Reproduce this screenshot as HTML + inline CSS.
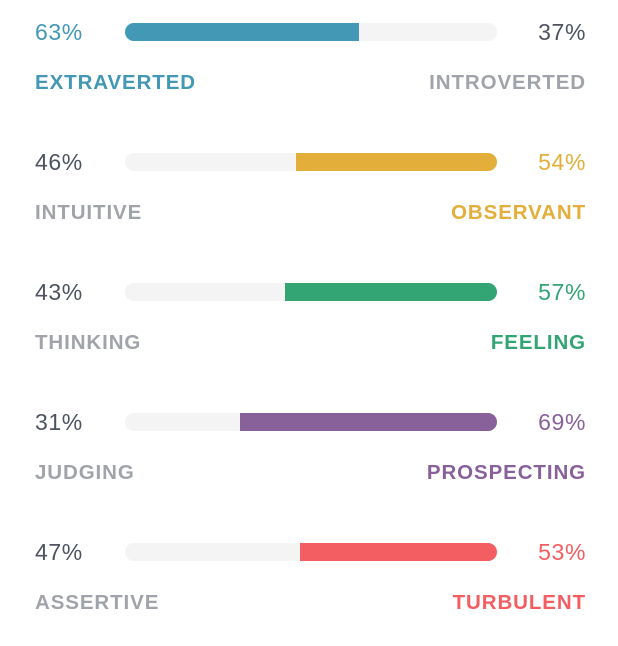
<!DOCTYPE html>
<html><head><meta charset="utf-8"><style>
html,body{margin:0;padding:0;background:#fff;width:618px;height:646px;overflow:hidden;font-family:"Liberation Sans",sans-serif;}
.abs{position:absolute;white-space:nowrap;}
.num{font-size:23px;line-height:23px;letter-spacing:0.6px;}
.lab{font-size:20.5px;line-height:20px;font-weight:bold;letter-spacing:0.9px;}
.track{position:absolute;left:125px;width:372px;height:18px;border-radius:9px;background:#f4f4f4;overflow:hidden;}
.fill{position:absolute;top:0;height:18px;}
</style></head><body>
<div id="chart"></div>
<script>
const leftLabels=["EXTRAVERTED","INTUITIVE","THINKING","JUDGING","ASSERTIVE"];
const rightLabels=["INTROVERTED","OBSERVANT","FEELING","PROSPECTING","TURBULENT"];
const leftValues=[63,46,43,31,47];
const colors=["#4298b5","#e4ae3a","#33a474","#88619a","#f25e62"];
const dark="#4d5361", grey="#a0a4aa";
const chart=document.getElementById('chart');
for(let i=0;i<leftValues.length;i++){
  const top=23+i*130;
  const lv=leftValues[i], rv=100-lv;
  const leftWins=lv>=rv;
  const c=colors[i];
  const row=document.createElement('div');
  
  
  chart.appendChild(row);
  const ln=document.createElement('div');
  ln.className='abs num';ln.style.left='35px';ln.style.top=(top-2)+'px';
  ln.style.color=leftWins?c:dark;ln.textContent=lv+'%';
  
  
  row.appendChild(ln);
  const rn=document.createElement('div');
  rn.className='abs num';rn.style.right=(618-586)+'px';rn.style.top=(top-2)+'px';
  rn.style.color=leftWins?dark:c;rn.textContent=rv+'%';
  
  
  row.appendChild(rn);
  const tr=document.createElement('div');
  tr.className='track';tr.style.top=top+'px';
  
  
  const f=document.createElement('div');
  f.className='fill';f.style.background=c;
  const w=372*(leftWins?lv:rv)/100;
  f.style.width=w+'px';
  if(leftWins){f.style.left='0';}else{f.style.right='0';}
  
  
  tr.appendChild(f);row.appendChild(tr);
  const ll=document.createElement('div');
  ll.className='abs lab';ll.style.left='35px';ll.style.top=(top+50)+'px';
  ll.style.color=leftWins?c:grey;ll.textContent=leftLabels[i];
  
  
  row.appendChild(ll);
  const rl=document.createElement('div');
  rl.className='abs lab';rl.style.right=(618-586)+'px';rl.style.top=(top+50)+'px';
  rl.style.color=leftWins?grey:c;rl.textContent=rightLabels[i];
  
  
  row.appendChild(rl);
}
</script>
</body></html>
